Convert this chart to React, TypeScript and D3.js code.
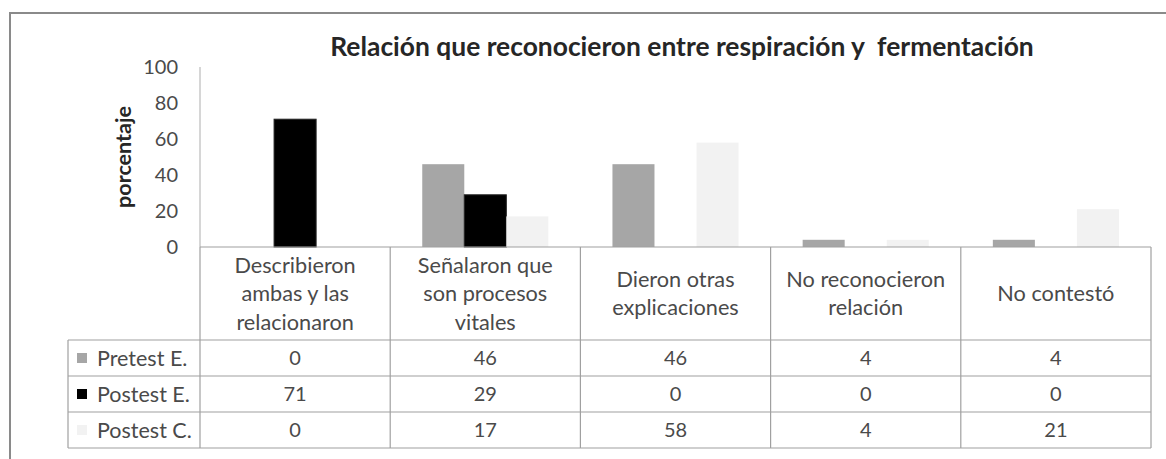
import React from 'react'
import * as d3 from 'd3'

// chart values
const categories = [
  ['Describieron', 'ambas y las', 'relacionaron'],
  ['Señalaron que', 'son procesos', 'vitales'],
  ['Dieron otras', 'explicaciones'],
  ['No reconocieron', 'relación'],
  ['No contestó'],
]
const seriesNames = ['Pretest E.', 'Postest E.', 'Postest C.']
const pretestE = [0, 46, 46, 4, 4]
const postestE = [71, 29, 0, 0, 0]
const postestC = [0, 17, 58, 4, 21]
const yTicks = [0, 20, 40, 60, 80, 100]

const seriesValues = [pretestE, postestE, postestC]
const colors = ['#a6a6a6', '#000000', '#f2f2f2']

const W = 1166
const H = 459
const left = 200
const right = 1151
const top = 67
const base = 247
const headerBottom = 340
const rowH = 36
const legendLeft = 68
const font = 'Lato, "Open Sans", sans-serif'
const textColor = '#4a4a4a'
const lineColor = '#a0a0a0'

export default function App() {
  const idx = categories.map((_, i) => i)

  const x0 = d3.scaleBand<number>()
    .domain(idx)
    .range([left, right])
    .paddingInner(0.337)
    .paddingOuter(0.1685)

  const x1 = d3.scaleBand<number>()
    .domain([0, 1, 2])
    .range([0, x0.bandwidth()])

  const y = d3.scaleLinear().domain([0, 100]).range([base, top])

  const step = x0.step()
  const colEdges = d3.range(categories.length + 1).map(i => left + i * step)
  const rowEdges = d3.range(seriesNames.length + 1).map(i => headerBottom + i * rowH)

  return (
    <svg width={W} height={H} style={{ position: 'absolute', left: 0, top: 0, background: '#fff' }}
      fontFamily={font}>
      <rect x={10} y={13} width={W + 20} height={H + 20} fill="#fff" stroke="#8a8a8a" strokeWidth={2} />

      <text x={682} y={56} textAnchor="middle" fontSize={26.4} fontWeight="bold" fill="#262626"
        style={{ whiteSpace: 'pre' }}>
        {'Relación que reconocieron entre respiración y  fermentación'}
      </text>

      {/* y axis */}
      <line x1={left} x2={left} y1={top} y2={base} stroke="#c8c8c8" strokeWidth={1.5} />
      {yTicks.map(t => (
        <text key={t} x={178} y={y(t)} dy="0.35em" textAnchor="end" fontSize={20} fill={textColor}>{t}</text>
      ))}
      <text transform={`translate(123,${(top + base) / 2}) rotate(-90)`} textAnchor="middle" dy="0.35em"
        fontSize={21.5} fontWeight="bold" fill="#262626">porcentaje</text>

      {/* bars */}
      {idx.map(i => (
        <g key={i} transform={`translate(${x0(i)},0)`}>
          {seriesValues.map((vals, s) => (
            <rect key={s} x={x1(s)} y={y(vals[i])} width={x1.bandwidth()} height={base - y(vals[i])}
              fill={colors[s]} stroke={s === 1 ? '#222' : 'none'} strokeWidth={1} />
          ))}
        </g>
      ))}

      {/* data table */}
      <g stroke={lineColor} strokeWidth={1.2}>
        <line x1={left} x2={right} y1={base} y2={base} />
        {colEdges.map((cx, i) => (
          <line key={i} x1={cx} x2={cx} y1={base} y2={rowEdges[rowEdges.length - 1]} />
        ))}
        {rowEdges.map((ry, i) => (
          <line key={i} x1={legendLeft} x2={right} y1={ry} y2={ry} />
        ))}
        <line x1={legendLeft} x2={legendLeft} y1={headerBottom} y2={rowEdges[rowEdges.length - 1]} />
      </g>

      {categories.map((lines, i) => {
        const cx = left + (i + 0.5) * step
        const lh = 28.5
        const cy = (base + headerBottom) / 2
        return (
          <text key={i} textAnchor="middle" fontSize={21.7} fill={textColor}>
            {lines.map((ln, k) => (
              <tspan key={k} x={cx} y={cy + (k - (lines.length - 1) / 2) * lh} dy="0.35em">{ln}</tspan>
            ))}
          </text>
        )
      })}

      {seriesNames.map((name, s) => {
        const cy = headerBottom + (s + 0.5) * rowH
        return (
          <g key={name}>
            <rect x={77} y={cy - 5} width={10} height={10} fill={colors[s]} />
            <text x={97} y={cy} dy="0.35em" fontSize={21.5} fill={textColor}>{name}</text>
            {seriesValues[s].map((v, i) => (
              <text key={i} x={left + (i + 0.5) * step} y={cy} dy="0.35em" textAnchor="middle"
                fontSize={20} fill={textColor}>{v}</text>
            ))}
          </g>
        )
      })}
    </svg>
  )
}
